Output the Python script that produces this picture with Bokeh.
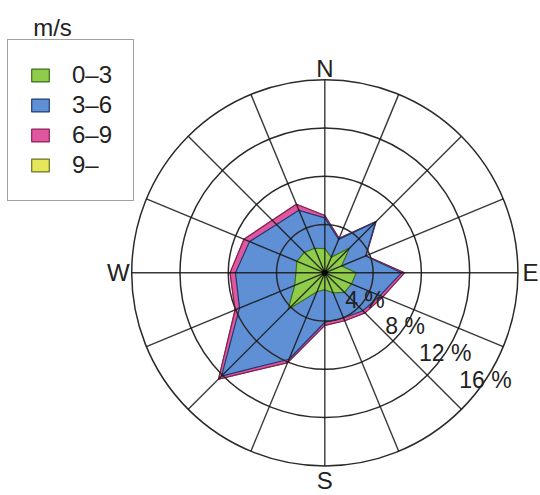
import numpy as np
from bokeh.plotting import figure
from bokeh.models import Legend, LegendItem, Range1d, ColumnDataSource
from bokeh.core.properties import value
from bokeh.embed import file_html
from bokeh.resources import INLINE

# 16 directions, clockwise from North
directions = ["N", "NNE", "NE", "ENE", "E", "ESE", "SE", "SSE",
              "S", "SSW", "SW", "WSW", "W", "WNW", "NW", "NNW"]
# frequency (%) per speed class
freq_0_3 = [2.0, 1.4, 2.9, 1.5, 2.6, 2.4, 2.3, 1.8, 1.4, 1.7, 4.3, 2.7, 2.4, 2.5, 2.4, 2.2]
freq_3_6 = [2.55, 1.6, 3.05, 2.15, 3.75, 2.55, 2.15, 2.25, 2.7, 6.05, 7.8, 4.95, 5.0, 4.25, 3.25, 3.4]
freq_6_9 = [0.2, 0.1, 0.05, 0.05, 0.25, 0.25, 0.25, 0.25, 0.25, 0.3, 0.35, 0.4, 0.45, 0.5, 0.5, 0.55]
freq_9 = [0.0] * 16
classes = ["0\u20133", "3\u20136", "6\u20139", "9\u2013"]
ring_values = [4, 8, 12, 16]
ring_labels = ["4 %", "8 %", "12 %", "16 %"]
compass_labels = ["N", "E", "S", "W"]
legend_title = "m/s"

fills = ["#8FCC4B", "#5F90D6", "#E0579F", "#E6E65A"]
lines = ["#3B6E1A", "#1E3A70", "#8A1F5A", "#6E6E20"]
FONT = "Liberation Sans"

theta = np.deg2rad(np.arange(16) * 22.5)
sin_t, cos_t = np.sin(theta), np.cos(theta)
cum = np.cumsum(np.array([freq_0_3, freq_3_6, freq_6_9, freq_9]), axis=0)

p = figure(width=540, height=495,
           x_range=Range1d(-26.87, 17.87), y_range=Range1d(-18.45, 22.56),
           output_backend="svg", toolbar_location=None, min_border=0,
           x_axis_type=None, y_axis_type=None)
p.grid.visible = False
p.outline_line_color = None
p.background_fill_color = "white"
p.border_fill_color = "white"

renderers = {}
for k in reversed(range(4)):
    r = cum[k]
    renderers[k] = p.patch(list(r * sin_t), list(r * cos_t),
                           fill_color=fills[k], line_color=lines[k], line_width=1.2)

# grid: circles and spokes on top
for rv in ring_values:
    p.circle(x=0, y=0, radius=rv, fill_color=None, line_color="#2a2a2a", line_width=1.5)
R = ring_values[-1]
p.segment(x0=[0] * 16, y0=[0] * 16, x1=list(R * sin_t), y1=list(R * cos_t),
          line_color="#151515", line_width=1.4, line_alpha=0.85)
p.scatter(x=[0], y=[0], size=5, color="black")

# compass labels
ca = np.deg2rad([0, 90, 180, 270])
rl = np.array([16.95, 17.05, 17.2, 17.1])
src_c = ColumnDataSource(dict(x=list(rl * np.sin(ca)), y=list(rl * np.cos(ca)), t=compass_labels))
p.text(x="x", y="y", text="t", source=src_c, text_font=value(FONT), text_font_size=value("24px"),
       text_align="center", text_baseline="middle", text_color="#222222")

# ring labels along -33.75 deg from East
ang = np.deg2rad(-33.75)
rv_arr = np.array(ring_values, dtype=float)
src_r = ColumnDataSource(dict(x=list(rv_arr * np.cos(ang)), y=list(rv_arr * np.sin(ang)), t=ring_labels))
p.text(x="x", y="y", text="t", source=src_r, text_font=value(FONT), text_font_size=value("23px"),
       text_align="center", text_baseline="middle", text_color="#222222")

legend = Legend(items=[LegendItem(label=classes[k], renderers=[renderers[k]]) for k in range(4)],
                location=(7, 294), orientation="vertical",
                label_text_font=FONT, label_text_font_size="24px", label_text_color="#222222",
                glyph_width=22, glyph_height=16, label_standoff=21, spacing=2,
                padding=21, margin=0,
                border_line_color="#444444", border_line_width=1.5,
                background_fill_color="white", background_fill_alpha=1.0)
p.add_layout(legend)

# legend title above the box
src_t = ColumnDataSource(dict(x=[-22.56], y=[20.32], t=[legend_title]))
p.text(x="x", y="y", text="t", source=src_t, text_font=value(FONT), text_font_size=value("24px"),
       text_align="center", text_baseline="middle", text_color="#222222")

open("out.html", "w").write(file_html(p, INLINE))
